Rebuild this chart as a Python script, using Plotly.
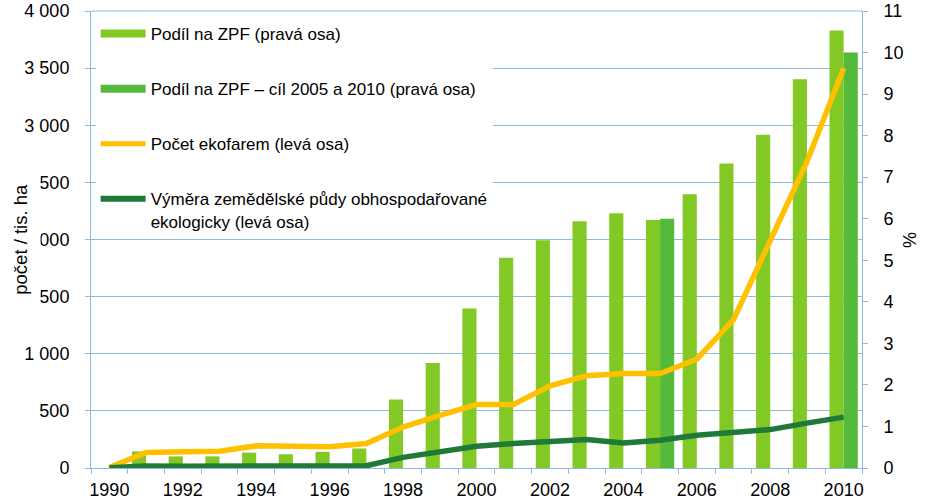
import plotly.graph_objects as go

# ---------------- data ----------------
years = list(range(1990, 2011))
share_years = list(range(1991, 2011))
share_pct = [0.40, 0.28, 0.28, 0.37, 0.33, 0.39, 0.47, 1.65, 2.53, 3.84,
             5.06, 5.48, 5.94, 6.13, 5.97, 6.59, 7.33, 8.02, 9.36, 10.53]
target_years = [2005, 2010]
target_pct = [6.0, 10.0]
farms = [3, 136, 142, 147, 194, 185, 185, 214, 358, 460, 555,
         555, 720, 807, 827, 827, 952, 1299, 1978, 2681, 3500]
area = [3, 17, 16, 15, 16, 14, 17, 20, 93, 142, 191,
        214, 228, 249, 220, 243, 286, 306, 336, 393, 445]

left_ticks = [0, 500, 1000, 1500, 2000, 2500, 3000, 3500, 4000]
left_labels = ["0", "500", "1 000", "1 500", "2 000", "2 500", "3 000", "3 500", "4 000"]
x_ticks = list(range(1990, 2011, 2))
x_labels = [str(v) for v in x_ticks]

names = ["Podíl na ZPF (pravá osa)",
         "Podíl na ZPF – cíl 2005 a 2010 (pravá osa)",
         "Počet ekofarem (levá osa)",
         "Výměra zemědělské půdy obhospodařované<br>ekologicky (levá osa)"]

# ---------------- style ----------------
C_BAR = "#82c926"
C_TARGET = "#55b93a"
C_FARMS = "#ffc000"
C_AREA = "#1f7a3a"
C_AXIS = "#8dbbe0"
FONT = "Liberation Sans, Arial, sans-serif"

TOP, BOTTOM = 11, 468          # plot area pixel rows
PH = BOTTOM - TOP

fig = go.Figure()

fig.add_trace(go.Bar(x=share_years, y=share_pct, marker_color=C_BAR,
                     marker_line_width=0, showlegend=False, yaxis="y"))
fig.add_trace(go.Bar(x=target_years, y=target_pct, marker_color=C_TARGET,
                     marker_line_width=0, showlegend=False, yaxis="y"))
fig.add_trace(go.Scatter(x=years, y=farms, mode="lines", yaxis="y2",
                         line=dict(color=C_FARMS, width=5.5), showlegend=False))
fig.add_trace(go.Scatter(x=years, y=area, mode="lines", yaxis="y2",
                         line=dict(color=C_AREA, width=5.5), showlegend=False))

# legend entries
leg_colors = [C_BAR, C_TARGET, C_FARMS, C_AREA]
leg_widths = [8, 8, 5, 6]
for i, (n, c, w) in enumerate(zip(names, leg_colors, leg_widths)):
    fig.add_trace(go.Scatter(x=[None], y=[None], mode="lines", name=n,
                             legendgroup=f"g{i}", yaxis="y2",
                             line=dict(color=c, width=w)))

fig.update_layout(
    width=933, height=500, autosize=False,
    margin=dict(l=91, r=71, t=TOP, b=500 - BOTTOM),
    paper_bgcolor="white", plot_bgcolor="white",
    font=dict(family=FONT, color="black", size=18),
    barmode="group", bargap=0.23, bargroupgap=0,
    xaxis=dict(range=[1989.5, 2010.5], tickmode="array", tickvals=x_ticks,
               ticktext=x_labels, ticks="", showgrid=False, zeroline=False,
               showline=True, linecolor=C_AXIS, linewidth=1,
               ticklabelstandoff=5, automargin=False,
               minor=dict(tickmode="array",
                          tickvals=[1989.5 + i for i in range(22)],
                          ticks="outside", ticklen=5, tickcolor=C_AXIS,
                          showgrid=False)),
    yaxis=dict(side="right", range=[0, 11], tickmode="linear", tick0=0, dtick=1,
               ticks="outside", ticklen=5, tickcolor=C_AXIS, showgrid=False,
               zeroline=False, showline=True, linecolor=C_AXIS,
               ticklabelstandoff=12, automargin=False,
               ticklabeloverflow="allow"),
    yaxis2=dict(side="left", overlaying="y", anchor="x", range=[0, 4000],
                tickmode="array", tickvals=left_ticks, ticktext=left_labels,
                ticks="outside", ticklen=5, tickcolor=C_AXIS,
                showgrid=True, gridcolor=C_AXIS, gridwidth=1,
                zeroline=False, showline=True, linecolor=C_AXIS,
                ticklabelstandoff=12, automargin=False,
                ticklabeloverflow="allow"),
    legend=dict(x=0.006, y=1 - (16 - TOP) / PH, xanchor="left", yanchor="top",
                bgcolor="white", borderwidth=0, font=dict(size=17, family=FONT),
                tracegroupgap=30, itemwidth=45, valign="top",
                traceorder="grouped"),
    shapes=[dict(type="line", xref="paper", yref="paper", x0=0, x1=1,
                 y0=1, y1=1, line=dict(color=C_AXIS, width=1), layer="below")],
    annotations=[
        dict(text="\u00a0\u00a0počet / tis. ha\u00a0\u00a0", xref="paper", yref="paper",
             x=(20 - 91) / 771, y=(BOTTOM - 240) / PH, textangle=-90,
             showarrow=False, font=dict(size=18.5), bgcolor="white",
             borderpad=9, xanchor="center", yanchor="middle"),
        dict(text="%", xref="paper", yref="paper",
             x=(910 - 91) / 771, y=(BOTTOM - 240) / PH, textangle=-90,
             showarrow=False, font=dict(size=18),
             xanchor="center", yanchor="middle"),
    ],
)

fig.write_html("out.html")
